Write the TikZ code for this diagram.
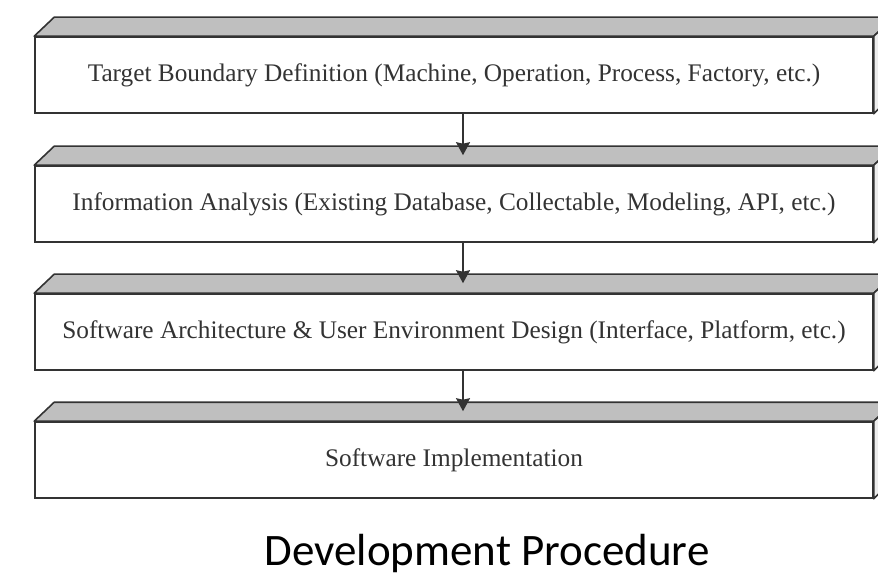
\documentclass[tikz,border=0pt]{standalone}
\usepackage{fontspec}
\setmainfont{Liberation Serif}
\newfontfamily\titlefont{Carlito}
\usetikzlibrary{calc, arrows.meta, positioning}
\definecolor{lineDark}{gray}{0.2}
\definecolor{topGray}{gray}{0.75}
\definecolor{sideGray}{gray}{0.93}

\tikzset{
    stage/.style={draw=lineDark, line width=1.6pt, fill=white, minimum width=838pt,
        minimum height=76pt, inner sep=0pt, font=\fontsize{25.3}{28}\selectfont, text=black!80},
    roof/.style={draw=lineDark, line width=1.6pt, fill=topGray, line join=round},
    flow/.style={-{Stealth[length=13pt, width=14pt, inset=1.5pt]}, line width=1.6pt, lineDark},
}

% gray top face and thin right face of a stage
\newcommand{\stageroof}[1]{
    \draw[roof] (#1.north west) -- ++(20,-19) -- ($(#1.north east)+(20,-19)$)
        -- (#1.north east) -- cycle;
    \draw[roof, fill=sideGray] (#1.north east) -- ++(20,-19) -- ++(0,76)
        -- (#1.south east) -- cycle;
}

\begin{document}
\begin{tikzpicture}[x=1pt, y=-1pt]
    \useasboundingbox (0,0) rectangle (878,577);
    \clip (0,0) rectangle (878,577);

    \node[stage] (target) at (454,75) {Target Boundary Definition (Machine, Operation, Process, Factory, etc.)};
    \node[stage] (info) at (454,204) {Information Analysis (Existing Database, Collectable, Modeling, API, etc.)};
    \node[stage] (arch) at (454,332) {Software Architecture \& User Environment Design (Interface, Platform, etc.)};
    \node[stage] (impl) at (454,460) {Software Implementation};

    \stageroof{target}
    \stageroof{info}
    \stageroof{arch}
    \stageroof{impl}

    % arrow tips end halfway into the next roof
    \coordinate (infoIn) at ($(info.north)+(9,-10)$);
    \coordinate (archIn) at ($(arch.north)+(9,-10)$);
    \coordinate (implIn) at ($(impl.north)+(9,-10)$);
    \draw[flow] (target.south -| infoIn) -- (infoIn);
    \draw[flow] (info.south -| archIn) -- (archIn);
    \draw[flow] (arch.south -| implIn) -- (implIn);

    \node[font=\titlefont\fontsize{45}{50}\selectfont] (title) at (487,553) {Development Procedure};
\end{tikzpicture}
\end{document}
